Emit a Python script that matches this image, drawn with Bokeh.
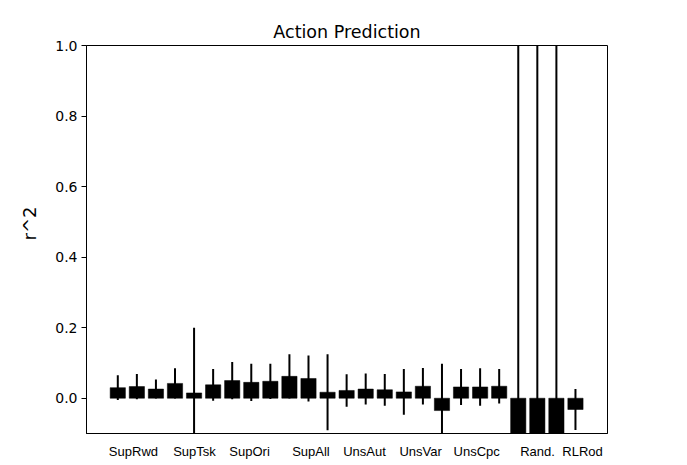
from bokeh.plotting import figure
from bokeh.models import (Range1d, FixedTicker, PrintfTickFormatter, Title,
                          ColumnDataSource)
from bokeh.embed import file_html
from bokeh.resources import INLINE

# ---- data ----
bar_index = list(range(25))
r2_values = [0.030, 0.033, 0.026, 0.042, 0.015,
             0.038, 0.050, 0.045, 0.048, 0.062,
             0.056, 0.017, 0.022, 0.026, 0.024,
             0.018, 0.034, -0.035, 0.032, 0.032,
             0.034, -1.5, -1.5, -1.5, -0.032]
r2_errors = [0.035, 0.036, 0.027, 0.043, 0.185,
             0.045, 0.053, 0.053, 0.050, 0.063,
             0.065, 0.108, 0.046, 0.044, 0.045,
             0.065, 0.052, 0.133, 0.051, 0.053,
             0.049, 3.0, 3.0, 3.0, 0.058]
group_labels = ["SupRwd", "SupTsk", "SupOri", "SupAll", "UnsAut",
                "UnsVar", "UnsCpc", "Rand.", "RLRod"]
label_pos = [0.82, 4.02, 6.91, 10.13, 12.94, 15.88, 18.82, 22.01, 24.37]
y_ticks = [0.0, 0.2, 0.4, 0.6, 0.8, 1.0]

lower = [v - e for v, e in zip(r2_values, r2_errors)]
upper = [v + e for v, e in zip(r2_values, r2_errors)]
src = ColumnDataSource(dict(x=bar_index, top=r2_values, lo=lower, hi=upper))

p = figure(width=687, height=465, output_backend="svg", toolbar_location=None,
           x_range=Range1d(-1.641, 25.68), y_range=Range1d(-0.1, 1.0),
           title="Action Prediction",
           min_border_left=86, min_border_right=80, min_border_top=45,
           min_border_bottom=32)

p.title.align = "center"
p.title.text_font = "DejaVu Sans"
p.title.text_font_size = "17.5px"
p.title.text_font_style = "normal"
p.title.text_color = "black"
p.title.standoff = 7

p.vbar(x="x", top="top", bottom=0, width=0.8, source=src,
       fill_color="black", line_color="black", line_width=0.5)
p.segment(x0="x", y0="lo", x1="x", y1="hi", source=src,
          line_color="black", line_width=2)

p.xgrid.visible = False
p.ygrid.visible = False
p.outline_line_color = "black"
p.outline_line_width = 1
p.outline_line_alpha = 1
p.background_fill_color = "white"
p.border_fill_color = "white"

# x axis: only the group names, no ticks
xa = p.xaxis[0]
xa.ticker = FixedTicker(ticks=label_pos)
xa.major_label_overrides = {pos: name for pos, name in zip(label_pos, group_labels)}
xa.major_tick_line_color = None
xa.minor_tick_line_color = None
xa.axis_line_color = "black"
xa.major_label_text_font = "Liberation Sans"
xa.major_label_text_font_size = "13px"
xa.major_label_text_color = "black"
xa.major_label_standoff = 4

ya = p.yaxis[0]
ya.ticker = FixedTicker(ticks=y_ticks)
ya.formatter = PrintfTickFormatter(format="%.1f")
ya.major_tick_out = 5
ya.major_tick_in = 0
ya.minor_tick_line_color = None
ya.major_tick_line_color = "black"
ya.axis_line_color = "black"
ya.major_label_text_font = "DejaVu Sans"
ya.major_label_text_font_size = "14px"
ya.major_label_text_color = "black"
ya.major_label_standoff = 4

# y-axis title, placed as in the reference (slightly above frame centre)
ylab = Title(text="r^2", align="left", offset=193, text_font="DejaVu Sans",
             text_font_size="18px", text_font_style="normal",
             text_color="black", standoff=26)
p.add_layout(ylab, "left")

open("out.html", "w").write(file_html(p, INLINE))
